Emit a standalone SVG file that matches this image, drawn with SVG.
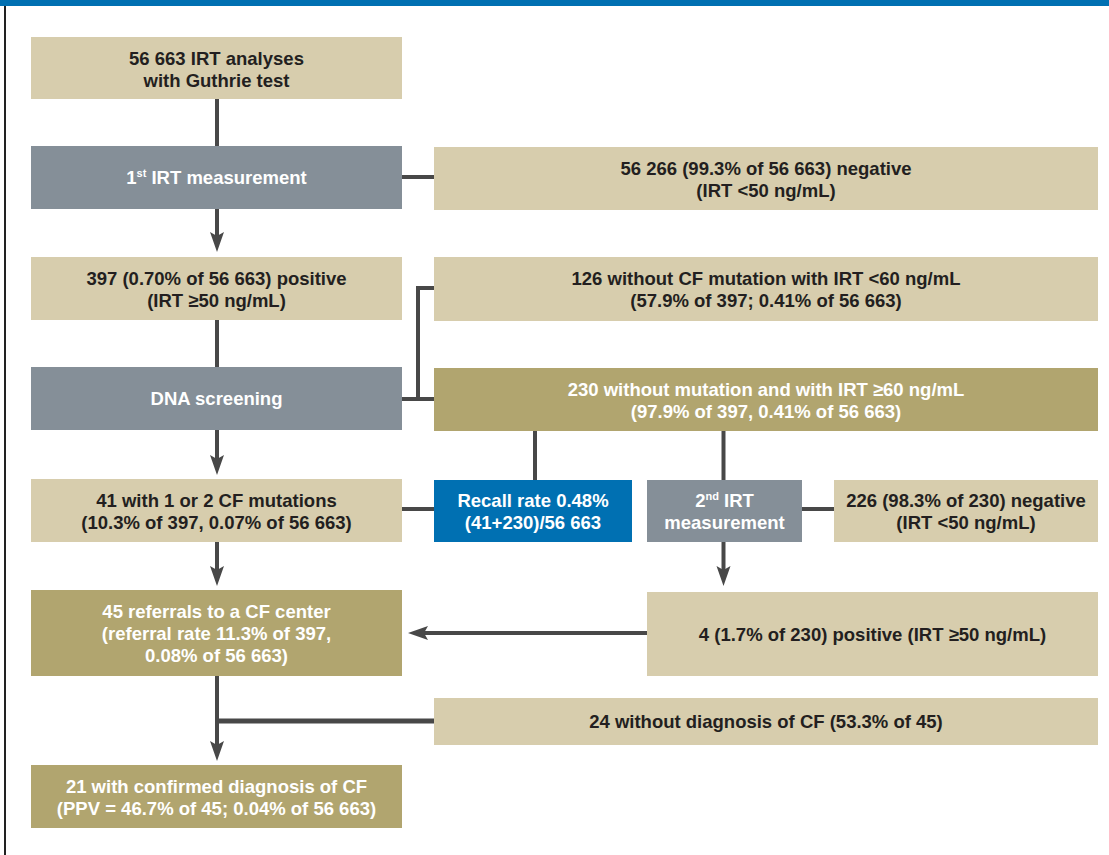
<svg xmlns="http://www.w3.org/2000/svg" width="1109" height="855" viewBox="0 0 1109 855">
<style>
text{font-family:"Liberation Sans",Arial,sans-serif;font-weight:bold;font-size:18.5px;text-anchor:middle}
.dk{fill:#231f20}
.wt{fill:#ffffff}
.light{fill:#d7cdad}
.dark{fill:#b1a56f}
.grey{fill:#858f98}
.blue{fill:#0070b2}
.conn{stroke:#484848;stroke-width:4;fill:none}
.sup{font-size:11px}
</style>
<defs>
<marker id="ah" markerUnits="userSpaceOnUse" markerWidth="24" markerHeight="18" viewBox="0 -9 24 18" refX="10" refY="0" orient="auto">
<path d="M0,-7 L20,0 L0,7 L4,0 Z" fill="#484848"/>
</marker>
</defs>
<rect x="0" y="0" width="1109" height="6" fill="#0070b2"/>
<rect x="4" y="6" width="2" height="849" fill="#222222"/>

<g id="connectors">
<line class="conn" x1="217" y1="99" x2="217" y2="146"/>
<line class="conn" x1="402" y1="177" x2="434" y2="177"/>
<line class="conn" x1="217" y1="209" x2="217" y2="242" marker-end="url(#ah)"/>
<line class="conn" x1="217" y1="320" x2="217" y2="367"/>
<line class="conn" x1="402" y1="399" x2="434" y2="399"/>
<path class="conn" d="M418,399 V288 H434"/>
<line class="conn" x1="217" y1="430" x2="217" y2="465" marker-end="url(#ah)"/>
<line class="conn" x1="402" y1="509" x2="434" y2="509"/>
<line class="conn" x1="535" y1="431" x2="535" y2="480"/>
<line class="conn" x1="723.5" y1="431" x2="723.5" y2="480"/>
<line class="conn" x1="802" y1="509" x2="834" y2="509"/>
<line class="conn" x1="723.5" y1="542" x2="723.5" y2="576" marker-end="url(#ah)"/>
<line class="conn" x1="217" y1="542" x2="217" y2="576" marker-end="url(#ah)"/>
<line class="conn" x1="647" y1="633" x2="418" y2="633" marker-end="url(#ah)"/>
<line class="conn" x1="217" y1="676" x2="217" y2="751" marker-end="url(#ah)"/>
<line class="conn" x1="217" y1="721" x2="434" y2="721" style="stroke-width:5"/>
</g>

<g id="n-irt-analyses">
<rect class="light" x="31" y="37" width="371" height="62"/>
<text class="dk" x="216.5" y="64.5">56 663 IRT analyses</text>
<text class="dk" x="216.5" y="86.5">with Guthrie test</text>
</g>

<g id="n-first-irt">
<rect class="grey" x="31" y="146" width="371" height="63"/>
<text class="wt" x="216.5" y="184">1<tspan class="sup" dy="-7">st</tspan><tspan dy="7"> IRT measurement</tspan></text>
</g>

<g id="n-negative-1">
<rect class="light" x="434" y="147" width="664" height="63"/>
<text class="dk" x="766" y="174.5">56 266 (99.3% of 56 663) negative</text>
<text class="dk" x="766" y="196.5">(IRT &lt;50 ng/mL)</text>
</g>

<g id="n-positive-397">
<rect class="light" x="31" y="257" width="371" height="63"/>
<text class="dk" x="216.5" y="284.5">397 (0.70% of 56 663) positive</text>
<text class="dk" x="216.5" y="306.5">(IRT ≥50 ng/mL)</text>
</g>

<g id="n-without-cf-126">
<rect class="light" x="434" y="257" width="664" height="64"/>
<text class="dk" x="766" y="285">126 without CF mutation with IRT &lt;60 ng/mL</text>
<text class="dk" x="766" y="307">(57.9% of 397; 0.41% of 56 663)</text>
</g>

<g id="n-dna-screening">
<rect class="grey" x="31" y="367" width="371" height="63"/>
<text class="wt" x="216.5" y="405">DNA screening</text>
</g>

<g id="n-without-mutation-230">
<rect class="dark" x="434" y="368" width="664" height="63"/>
<text class="wt" x="766" y="395.5">230 without mutation and with IRT ≥60 ng/mL</text>
<text class="wt" x="766" y="417.5">(97.9% of 397, 0.41% of 56 663)</text>
</g>

<g id="n-cf-mutations-41">
<rect class="light" x="31" y="479" width="371" height="63"/>
<text class="dk" x="216.5" y="506.5">41 with 1 or 2 CF mutations</text>
<text class="dk" x="216.5" y="528.5">(10.3% of 397, 0.07% of 56 663)</text>
</g>

<g id="n-recall-rate">
<rect class="blue" x="434" y="480" width="198" height="62"/>
<text class="wt" x="533" y="507">Recall rate 0.48%</text>
<text class="wt" x="533" y="529">(41+230)/56 663</text>
</g>

<g id="n-second-irt">
<rect class="grey" x="647" y="480" width="155" height="62"/>
<text class="wt" x="724.5" y="507">2<tspan class="sup" dy="-7">nd</tspan><tspan dy="7"> IRT</tspan></text>
<text class="wt" x="724.5" y="529">measurement</text>
</g>

<g id="n-negative-226">
<rect class="light" x="834" y="480" width="264" height="62"/>
<text class="dk" x="966" y="507">226 (98.3% of 230) negative</text>
<text class="dk" x="966" y="529">(IRT &lt;50 ng/mL)</text>
</g>

<g id="n-referrals-45">
<rect class="dark" x="31" y="590" width="371" height="86"/>
<text class="wt" x="216.5" y="618">45 referrals to a CF center</text>
<text class="wt" x="216.5" y="640">(referral rate 11.3% of 397,</text>
<text class="wt" x="216.5" y="662">0.08% of 56 663)</text>
</g>

<g id="n-positive-4">
<rect class="light" x="647" y="592" width="451" height="84"/>
<text class="dk" x="872.5" y="640.5">4 (1.7% of 230) positive (IRT ≥50 ng/mL)</text>
</g>

<g id="n-without-diagnosis-24">
<rect class="light" x="434" y="698" width="664" height="47"/>
<text class="dk" x="766" y="728">24 without diagnosis of CF (53.3% of 45)</text>
</g>

<g id="n-confirmed-21">
<rect class="dark" x="31" y="765" width="371" height="63"/>
<text class="wt" x="216.5" y="792.5">21 with confirmed diagnosis of CF</text>
<text class="wt" x="216.5" y="814.5">(PPV = 46.7% of 45; 0.04% of 56 663)</text>
</g>
</svg>
